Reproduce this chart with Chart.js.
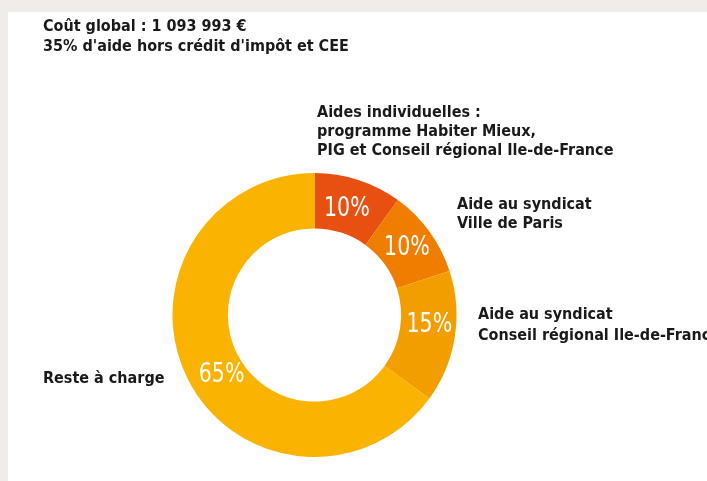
<!DOCTYPE html>
<html>
<head>
<meta charset="utf-8">
<script src="https://cdn.jsdelivr.net/npm/chart.js@4.4.1/dist/chart.umd.min.js"></script>
<style>
  html, body { margin: 0; padding: 0; background: #ffffff; }
  #wrap { position: relative; width: 707px; height: 481px; }
</style>
</head>
<body>
<div id="wrap"><canvas id="c" width="707" height="481"></canvas></div>
<script>
const titleLines = ["Coût global : 1 093 993 €", "35% d'aide hors crédit d'impôt et CEE"];
const categories = [
  "Aides individuelles : programme Habiter Mieux, PIG et Conseil régional Ile-de-France",
  "Aide au syndicat Ville de Paris",
  "Aide au syndicat Conseil régional Ile-de-France",
  "Reste à charge"
];
const labelLines = [
  ["Aides individuelles :", "programme Habiter Mieux,", "PIG et Conseil régional Ile-de-France"],
  ["Aide au syndicat", "Ville de Paris"],
  ["Aide au syndicat", "Conseil régional Ile-de-France"],
  ["Reste à charge"]
];
const shares = [10, 10, 15, 65];
const colors = ["#e85012", "#ef7d00", "#f39e00", "#f9b300"];

const FONT = '"Liberation Sans Narrow", "DejaVu Sans Condensed", "Arial Narrow", sans-serif';

const decor = {
  id: 'decor',
  beforeDraw(chart) {
    const ctx = chart.ctx;
    ctx.save();
    ctx.fillStyle = '#ffffff';
    ctx.fillRect(0, 0, chart.width, chart.height);
    ctx.fillStyle = '#f0ece9';
    ctx.fillRect(0, 0, chart.width, 12);
    ctx.fillRect(0, 0, 8, chart.height);
    ctx.restore();
  },
  afterDraw(chart) {
    const ctx = chart.ctx;
    ctx.save();
    // title
    ctx.fillStyle = '#1a1a1a';
    ctx.textBaseline = 'alphabetic';
    ctx.textAlign = 'left';
    ctx.font = 'bold 16px ' + FONT;
    ctx.fillText(titleLines[0], 43, 31);
    ctx.fillText(titleLines[1], 43, 51);
    // category labels
    const anchors = [[317, 117, 19], [457, 209, 19], [478, 319, 21], [43, 383, 19]];
    labelLines.forEach((lines, i) => {
      const [x, y, lh] = anchors[i];
      lines.forEach((t, j) => ctx.fillText(t, x, y + j * lh));
    });
    // percentages
    const nudge = [[-3, 2], [0, -1], [2, -9], [9, 7]];
    const meta = chart.getDatasetMeta(0);
    ctx.fillStyle = '#ffffff';
    ctx.font = '26px ' + FONT;
    ctx.textAlign = 'center';
    ctx.textBaseline = 'middle';
    meta.data.forEach((arc, i) => {
      const p = arc.getCenterPoint();
      ctx.save();
      ctx.translate(p.x + nudge[i][0], p.y + 1 + nudge[i][1]);
      ctx.scale(0.88, 1);
      ctx.fillText(shares[i] + '%', 0, 0);
      ctx.restore();
    });
    ctx.restore();
  }
};

new Chart(document.getElementById('c'), {
  type: 'doughnut',
  data: {
    labels: categories,
    datasets: [{
      data: shares,
      backgroundColor: colors,
      borderWidth: 0,
      hoverOffset: 0
    }]
  },
  options: {
    responsive: false,
    animation: false,
    cutout: '61%',
    layout: { padding: { left: 172, right: 250, top: 173, bottom: 24 } },
    plugins: {
      legend: { display: false },
      tooltip: { enabled: false },
      title: { display: false }
    },
    events: []
  },
  plugins: [decor]
});
</script>
</body>
</html>
